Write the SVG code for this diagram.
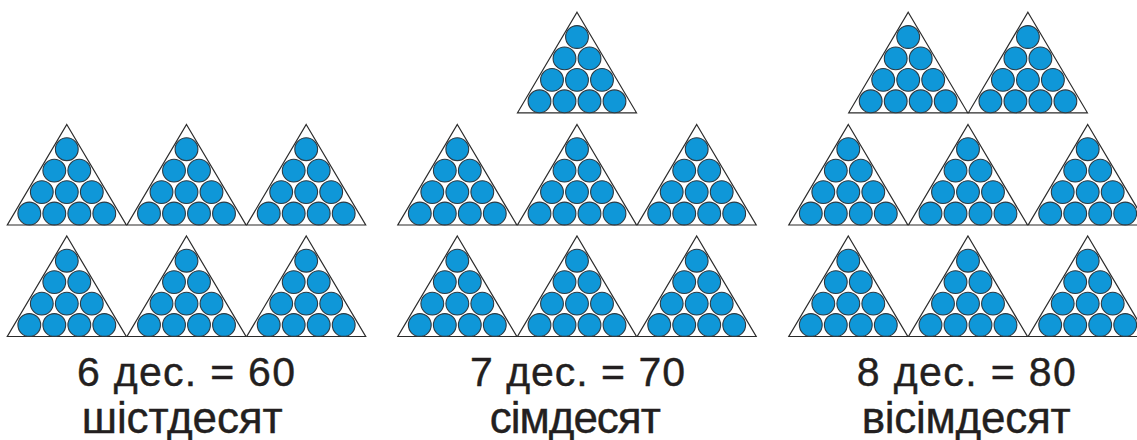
<svg xmlns="http://www.w3.org/2000/svg" xmlns:xlink="http://www.w3.org/1999/xlink" width="1137" height="440" viewBox="0 0 1137 440">
<style>
.tri{fill:#fff;stroke:#2b2b2b;stroke-width:1.2;stroke-linejoin:miter}
.ball{fill:#0f97d8;stroke:#2e3a42;stroke-width:1.1}
.l1{font-family:"Liberation Sans",Arial,sans-serif;font-size:41px;fill:#231f20;stroke:#231f20;stroke-width:0.4;text-anchor:middle}
.l2{font-family:"Liberation Sans",Arial,sans-serif;font-size:44px;fill:#231f20;stroke:#231f20;stroke-width:0.4;text-anchor:middle}
</style>
<defs>
<g id="t">
<polygon class="tri" points="0,0 59.5,100.5 -59.5,100.5"/>
<circle class="ball" cx="0" cy="24.7" r="11.4"/>
<circle class="ball" cx="-12.5" cy="46.1" r="11.4"/>
<circle class="ball" cx="12.5" cy="46.1" r="11.4"/>
<circle class="ball" cx="-25" cy="67.6" r="11.4"/>
<circle class="ball" cx="0" cy="67.6" r="11.4"/>
<circle class="ball" cx="25" cy="67.6" r="11.4"/>
<circle class="ball" cx="-37.5" cy="89" r="11.4"/>
<circle class="ball" cx="-12.5" cy="89" r="11.4"/>
<circle class="ball" cx="12.5" cy="89" r="11.4"/>
<circle class="ball" cx="37.5" cy="89" r="11.4"/>
</g>
</defs>
<g id="connectors"/>
<g id="group60">
<g id="g1a1"><use xlink:href="#t" href="#t" x="66.8" y="124.5"/></g>
<g id="g1a2"><use xlink:href="#t" href="#t" x="186.5" y="124.5"/></g>
<g id="g1a3"><use xlink:href="#t" href="#t" x="306.2" y="124.5"/></g>
<g id="g1b1"><use xlink:href="#t" href="#t" x="66.8" y="236"/></g>
<g id="g1b2"><use xlink:href="#t" href="#t" x="186.5" y="236"/></g>
<g id="g1b3"><use xlink:href="#t" href="#t" x="306.2" y="236"/></g>
<g id="label60">
<text class="l1" x="186" y="385.5" textLength="218" lengthAdjust="spacing">6 дес. = 60</text>
<text class="l2" x="182.2" y="432.5" textLength="201" lengthAdjust="spacing">шістдесят</text>
</g>
</g>
<g id="group70">
<g id="g2t"><use xlink:href="#t" href="#t" x="577" y="12.3"/></g>
<g id="g2a1"><use xlink:href="#t" href="#t" x="457.3" y="124.5"/></g>
<g id="g2a2"><use xlink:href="#t" href="#t" x="577" y="124.5"/></g>
<g id="g2a3"><use xlink:href="#t" href="#t" x="696.7" y="124.5"/></g>
<g id="g2b1"><use xlink:href="#t" href="#t" x="457.3" y="236"/></g>
<g id="g2b2"><use xlink:href="#t" href="#t" x="577" y="236"/></g>
<g id="g2b3"><use xlink:href="#t" href="#t" x="696.7" y="236"/></g>
<g id="label70">
<text class="l1" x="577.5" y="385.5" textLength="215" lengthAdjust="spacing">7 дес. = 70</text>
<text class="l2" x="575.3" y="432.5" textLength="171" lengthAdjust="spacing">сімдесят</text>
</g>
</g>
<g id="group80">
<g id="g3t1"><use xlink:href="#t" href="#t" x="908.2" y="12.3"/></g>
<g id="g3t2"><use xlink:href="#t" href="#t" x="1027.9" y="12.3"/></g>
<g id="g3a1"><use xlink:href="#t" href="#t" x="848.3" y="124.5"/></g>
<g id="g3a2"><use xlink:href="#t" href="#t" x="968" y="124.5"/></g>
<g id="g3a3"><use xlink:href="#t" href="#t" x="1087.7" y="124.5"/></g>
<g id="g3b1"><use xlink:href="#t" href="#t" x="848.3" y="236"/></g>
<g id="g3b2"><use xlink:href="#t" href="#t" x="968" y="236"/></g>
<g id="g3b3"><use xlink:href="#t" href="#t" x="1087.7" y="236"/></g>
<g id="label80">
<text class="l1" x="966.3" y="385.5" textLength="219" lengthAdjust="spacing">8 дес. = 80</text>
<text class="l2" x="966.2" y="432.5" textLength="209" lengthAdjust="spacing">вісімдесят</text>
</g>
</g>
</svg>
